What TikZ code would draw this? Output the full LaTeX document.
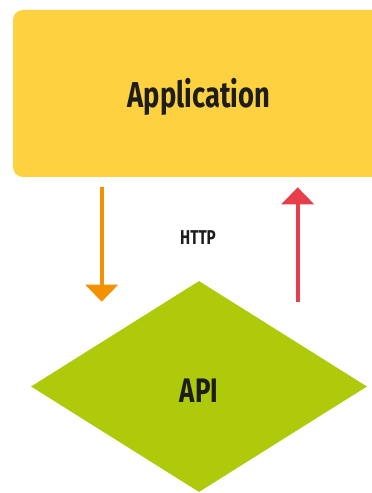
\documentclass[tikz,border=0pt]{standalone}
\usepackage{fontspec}
\setmainfont{Fira Sans}[FakeStretch=0.76]
\usetikzlibrary{shapes.geometric, arrows.meta}
\definecolor{appyellow}{RGB}{253,209,64}
\definecolor{apigreen}{RGB}{175,202,11}
\definecolor{reqorange}{RGB}{243,146,0}
\definecolor{resred}{RGB}{230,62,75}
\definecolor{inkblack}{RGB}{29,29,27}
\begin{document}
\begin{tikzpicture}[
    x=1pt, y=1pt,
    appbox/.style={rectangle, rounded corners=10pt, fill=appyellow, inner sep=0pt,
                   minimum width=372pt, minimum height=167pt, text=inkblack,
                   font=\fontsize{36}{40}\selectfont\bfseries,
                   text height=28pt, text depth=0pt},
    apibox/.style={diamond, fill=apigreen, inner sep=0pt, text=inkblack,
                   minimum width=336pt, minimum height=211pt,
                   font=\fontsize{34}{38}\selectfont\bfseries,
                   text height=33pt, text depth=0pt},
    flow/.style={line width=4pt, -{Triangle[width=32pt, length=17pt]}}
]
    \useasboundingbox (0,0) rectangle (372,493);
    \clip (0,0) rectangle (372,493);

    \node[appbox] (app) at (199,399.5) {Application};
    \node[apibox] (api) at (199,106.5) {API};
    \node[text=inkblack, font=\fontsize{20}{22}\selectfont\bfseries] (http) at (198,255) {HTTP};

    \coordinate (reqstart) at (101.7,306);
    \coordinate (reqend)   at (101.7,191.3);
    \coordinate (resstart) at (297.7,191);
    \coordinate (resend)   at (297.7,305.7);

    \draw[flow, reqorange] (reqstart) -- (reqend);
    \draw[flow, resred]    (resstart) -- (resend);
\end{tikzpicture}
\end{document}
